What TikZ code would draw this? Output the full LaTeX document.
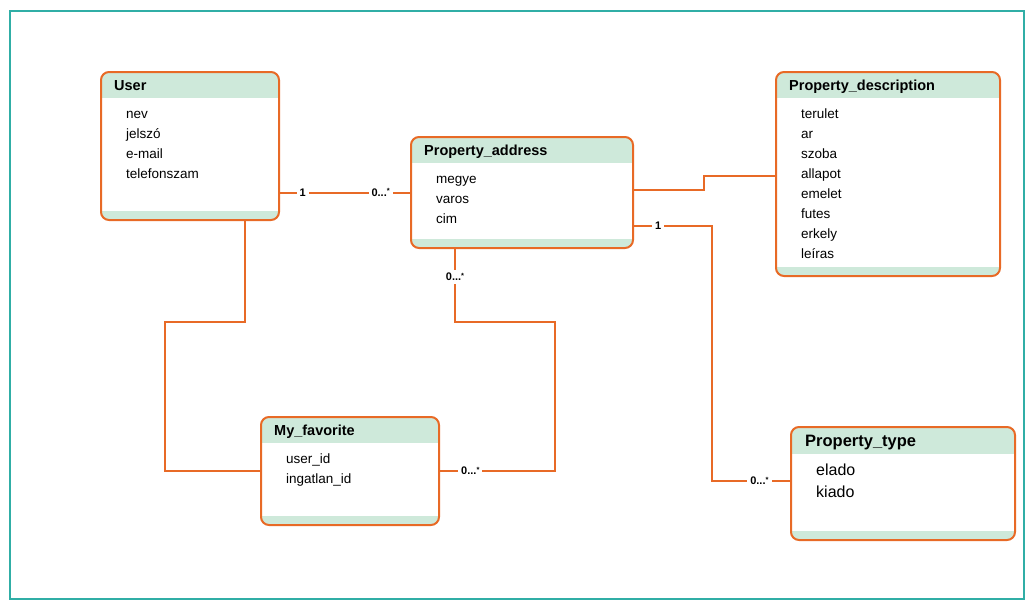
\documentclass[tikz,border=0pt]{standalone}
\usepackage{fontspec}
\setmainfont{Liberation Sans}
\definecolor{orng}{RGB}{232,106,38}
\definecolor{hdr}{RGB}{206,233,218}
\definecolor{frm}{RGB}{48,174,166}
\begin{document}
\begin{tikzpicture}[x=1pt,y=-1pt,
  entity/.style={draw=orng, line width=2pt, fill=white, rounded corners=8pt,
    rectangle, inner sep=0pt, outer sep=0pt, anchor=north west,
    path picture={
      \fill[hdr, sharp corners] (path picture bounding box.north west) rectangle ([yshift=-#1]path picture bounding box.north east);
      \fill[hdr, sharp corners] (path picture bounding box.south west) rectangle ([yshift=9pt]path picture bounding box.south east);
    }},
  entity/.default=26pt,
  ttl/.style={anchor=base west, inner sep=0pt, yshift=-5pt, font=\fontsize{14.5}{17}\selectfont\bfseries},
  attr/.style={anchor=base west, inner sep=0pt, yshift=-5pt, font=\fontsize{13.5}{16}\selectfont},
  conn/.style={draw=orng, line width=2pt},
  lab/.style={fill=white, inner sep=3pt, font=\fontsize{11}{13}\selectfont\bfseries}
]
\useasboundingbox (0,0) rectangle (1035,610);
\draw[frm, line width=2pt] (10,11) rectangle (1024,599);

% User
\node[entity, minimum width=178pt, minimum height=148pt] (user) at (101,72) {};
\node[ttl] (userT) at (114,85) {User};
\node[attr] (u1) at (126,113) {nev};
\node[attr] (u2) at (126,133) {jelszó};
\node[attr] (u3) at (126,153) {e-mail};
\node[attr] (u4) at (126,173) {telefonszam};

% Property_address
\node[entity, minimum width=222pt, minimum height=111pt] (pa) at (411,137) {};
\node[ttl] (paT) at (424,150) {Property\_address};
\node[attr] (pa1) at (436,178) {megye};
\node[attr] (pa2) at (436,198) {varos};
\node[attr] (pa3) at (436,218) {cim};

% Property_description
\node[entity, minimum width=224pt, minimum height=204pt] (pd) at (776,72) {};
\node[ttl] (pdT) at (789,85) {Property\_description};
\node[attr] (pd1) at (801,113) {terulet};
\node[attr] (pd2) at (801,133) {ar};
\node[attr] (pd3) at (801,153) {szoba};
\node[attr] (pd4) at (801,173) {allapot};
\node[attr] (pd5) at (801,193) {emelet};
\node[attr] (pd6) at (801,213) {futes};
\node[attr] (pd7) at (801,233) {erkely};
\node[attr] (pd8) at (801,253) {leíras};

% My_favorite
\node[entity, minimum width=178pt, minimum height=108pt] (mf) at (261,417) {};
\node[ttl] (mfT) at (274,430) {My\_favorite};
\node[attr] (mf1) at (286,458) {user\_id};
\node[attr] (mf2) at (286,478) {ingatlan\_id};

% Property_type
\node[entity=27pt, minimum width=224pt, minimum height=113pt] (pt) at (791,427) {};
\node[ttl, yshift=-1pt, font=\fontsize{16.5}{19}\selectfont\bfseries] (ptT) at (805,440) {Property\_type};
\node[attr, yshift=-0.5pt, font=\fontsize{16}{19}\selectfont] (pt1) at (816,470) {elado};
\node[attr, yshift=-0.5pt, font=\fontsize{16}{19}\selectfont] (pt2) at (816,492) {kiado};

% connectors
\newcommand{\many}{0...\raisebox{2.5pt}{\fontsize{7.5}{8}\selectfont *}}

\draw[conn] (user.east |- pa.west) -- node[lab,pos=0.18]{1} node[lab,pos=0.77]{\many} (pa.west);

\coordinate (c2a) at (704,190);
\coordinate (c2b) at (704,176);
\draw[conn] ([yshift=2.5pt]pa.east) -- (c2a) -- (c2b) -- ([yshift=-2pt]pd.west);

\coordinate (c3a) at (712,226);
\coordinate (c3b) at (712,481);
\draw[conn] ([yshift=-33.5pt]pa.east) -- node[lab,pos=0.32]{1} (c3a) -- (c3b)
  -- node[lab,pos=0.6]{\many} ([yshift=2.5pt]pt.west);

\coordinate (c4a) at (245,322);
\coordinate (c4b) at (165,322);
\coordinate (c4c) at (165,471);
\draw[conn] ([xshift=55pt]user.south) -- (c4a) -- (c4b) -- (c4c) -- (mf.west);

\coordinate (c5a) at (455,322);
\coordinate (c5b) at (555,322);
\coordinate (c5c) at (555,471);
\draw[conn] ([xshift=-67pt]pa.south) -- node[lab,pos=0.39]{\many} (c5a) -- (c5b) -- (c5c)
  -- node[lab,pos=0.73]{\many} (mf.east);

\end{tikzpicture}
\end{document}
